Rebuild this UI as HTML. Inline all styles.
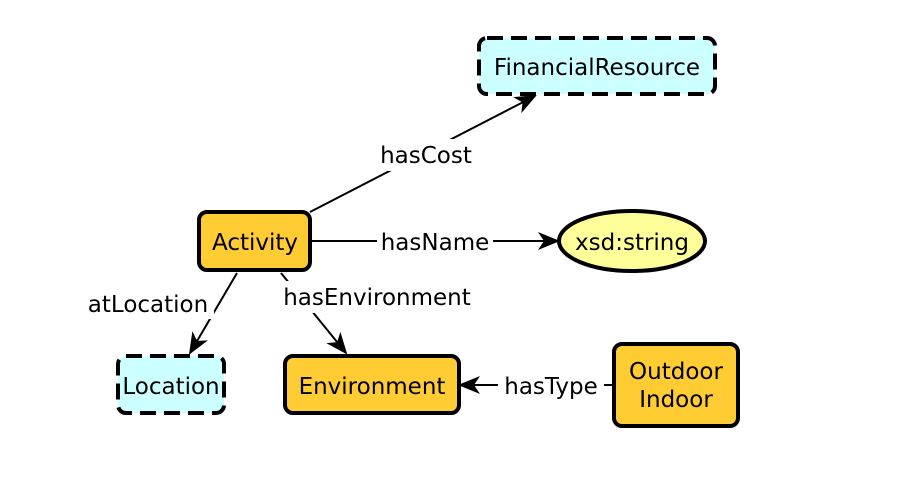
<!DOCTYPE html>
<html><head><style>body{margin:0;background:#fff}</style></head><body>
<svg width="910" height="486" xmlns="http://www.w3.org/2000/svg" font-family="DejaVu Sans, sans-serif" font-size="23">
<defs><marker id="a" markerWidth="22" markerHeight="18" refX="20" refY="9" orient="auto" markerUnits="userSpaceOnUse"><path d="M0,0 L22,9 L0,18 L6,9 Z" fill="#000"/></marker></defs>
<g stroke="#000" stroke-width="2" fill="none">
<line x1="310" y1="212" x2="535" y2="96" marker-end="url(#a)"/>
<line x1="310" y1="241" x2="558" y2="241" marker-end="url(#a)"/>
<line x1="237" y1="273" x2="190" y2="353" marker-end="url(#a)"/>
<line x1="281" y1="273" x2="346" y2="353" marker-end="url(#a)"/>
<line x1="613" y1="385" x2="460" y2="385" marker-end="url(#a)"/>
</g>
<g fill="#fff">
<rect x="376" y="139" width="100" height="32"/>
<rect x="377" y="226" width="116" height="30"/>
<rect x="84" y="287" width="130" height="32"/>
<rect x="280" y="281" width="194" height="32"/>
<rect x="498" y="370" width="106" height="30"/>
</g>
<g stroke="#000" stroke-width="4">
<rect x="479" y="38" width="236" height="56" rx="8" fill="#ccffff" stroke-dasharray="16,8"/>
<rect x="199" y="212" width="111" height="58" rx="8" fill="#ffcc33"/>
<ellipse cx="632" cy="241" rx="73" ry="30" fill="#ffff99"/>
<rect x="118" y="356" width="106" height="57" rx="8" fill="#ccffff" stroke-dasharray="16,8"/>
<rect x="285" y="356" width="174" height="57" rx="8" fill="#ffcc33"/>
<rect x="614" y="344" width="124" height="82" rx="8" fill="#ffcc33"/>
</g>
<g text-anchor="middle" fill="#000">
<text x="597" y="75">FinancialResource</text>
<text x="255" y="250">Activity</text>
<text x="632" y="250">xsd:string</text>
<text x="171" y="394">Location</text>
<text x="372" y="394">Environment</text>
<text x="676" y="379">Outdoor</text>
<text x="676" y="407">Indoor</text>
<text x="426" y="163">hasCost</text>
<text x="435" y="250">hasName</text>
<text x="148" y="312">atLocation</text>
<text x="377" y="305">hasEnvironment</text>
<text x="551" y="394">hasType</text>
</g>
</svg>
</body></html>
